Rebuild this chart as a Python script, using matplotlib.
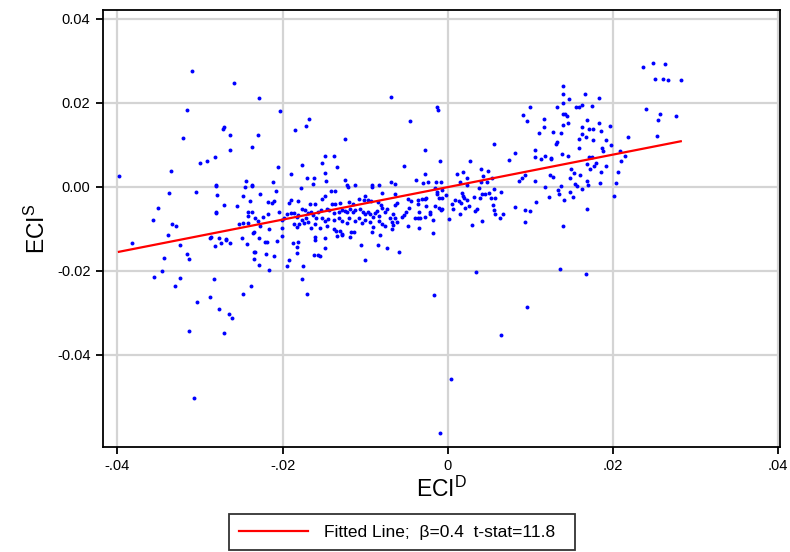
import matplotlib
matplotlib.use("Agg")
import matplotlib.pyplot as plt
from matplotlib.lines import Line2D

plt.rcParams['font.family'] = ['Liberation Sans', 'DejaVu Sans']
plt.rcParams['mathtext.default'] = 'regular'

# ---- data (ECI^D, ECI^S), grouped by region ----
upper_left = [(-0.0309,0.0276),(-0.0259,0.0248),(-0.0316,0.0183),(-0.0271,0.0143),(-0.0272,0.0138),(-0.0263,0.0124),
    (-0.0321,0.0117),(-0.0237,0.0095),(-0.0263,0.0087),(-0.0282,0.0071),(-0.0292,0.0061),(-0.0300,0.0056),(-0.0335,0.0038),
    (-0.0398,0.0025),(-0.0244,0.0014),(-0.0237,0.0005),(-0.0280,0.0005)]
upper_mid = [(-0.0228,0.0210),(-0.0069,0.0214),(-0.0203,0.0180),(-0.0168,0.0162),(-0.0172,0.0145),(-0.0185,0.0136),
    (-0.0230,0.0124),(-0.0124,0.0113),(-0.0149,0.0073),(-0.0138,0.0073),(-0.0152,0.0056),(-0.0176,0.0052),(-0.0206,0.0048),
    (-0.0134,0.0046),(-0.0053,0.0049),(-0.0190,0.0031),(-0.0149,0.0033),(-0.0170,0.0021),(-0.0162,0.0021),(-0.0125,0.0016),
    (-0.0147,0.0014),(-0.0211,0.0010),(-0.0163,0.0006),(-0.0122,0.0005),(-0.0112,0.0005),(-0.0092,0.0004),(-0.0083,0.0004),
    (-0.0069,0.0011),(-0.0064,0.0006)]
upper_center = [(-0.0013,0.0189),(-0.0012,0.0183),(-0.0046,0.0156),(0.0099,0.0189),(0.0091,0.0170),(0.0096,0.0156),
    (0.0117,0.0162),(0.0116,0.0141),(0.0111,0.0128),(0.0127,0.0130),(0.0056,0.0102),(-0.0027,0.0087),(-0.0010,0.0061),
    (0.0081,0.0081),(0.0074,0.0063),(0.0105,0.0088),(0.0106,0.0071),(0.0113,0.0066),(0.0118,0.0072),(0.0125,0.0069),
    (0.0125,0.0065),(0.0027,0.0060),(0.0011,0.0031),(0.0019,0.0035),(0.0040,0.0043),(0.0049,0.0037),(0.0023,0.0021),
    (0.0043,0.0025),(-0.0027,0.0031),(-0.0038,0.0017),(-0.0024,0.0011),(-0.0030,0.0008),(-0.0014,0.0012),(-0.0008,0.0011),
    (0.0015,0.0011),(0.0054,0.0021),(0.0093,0.0028),(0.0090,0.0021),(0.0086,0.0014),(0.0124,0.0028),(0.0127,0.0023),
    (0.0106,0.0014),(0.0040,0.0011),(0.0048,0.0011)]
upper_right = [(0.0236,0.0286),(0.0248,0.0295),(0.0263,0.0292),(0.0251,0.0257),(0.0261,0.0257),(0.0266,0.0254),
    (0.0282,0.0254),(0.0140,0.0240),(0.0139,0.0221),(0.0166,0.0220),(0.0183,0.0210),(0.0147,0.0208),(0.0140,0.0199),
    (0.0132,0.0190),(0.0155,0.0189),(0.0159,0.0189),(0.0163,0.0195),(0.0174,0.0191),(0.0240,0.0185),(0.0257,0.0174),
    (0.0255,0.0159),(0.0276,0.0168),(0.0140,0.0173),(0.0142,0.0172),(0.0144,0.0169),(0.0168,0.0158),(0.0140,0.0147),
    (0.0145,0.0151),(0.0183,0.0151),(0.0196,0.0144),(0.0163,0.0143),(0.0171,0.0137),(0.0176,0.0137),(0.0185,0.0133),
    (0.0137,0.0129),(0.0163,0.0126),(0.0167,0.0118),(0.0159,0.0114),(0.0176,0.0111),(0.0218,0.0118),(0.0253,0.0121),
    (0.0191,0.0110),(0.0132,0.0106),(0.0131,0.0101),(0.0197,0.0099),(0.0187,0.0093),(0.0159,0.0092),(0.0188,0.0084),
    (0.0209,0.0086),(0.0138,0.0077),(0.0146,0.0073),(0.0215,0.0073),(0.0171,0.0070),(0.0175,0.0071),(0.0210,0.0061),
    (0.0169,0.0053),(0.0180,0.0056),(0.0177,0.0050),(0.0192,0.0050),(0.0149,0.0042),(0.0172,0.0042),(0.0153,0.0032),
    (0.0160,0.0027),(0.0185,0.0036),(0.0206,0.0034),(0.0148,0.0020),(0.0169,0.0014),(0.0170,0.0005),(0.0154,0.0007),
    (0.0184,0.0008),(0.0204,0.0008)]
lower_left = [(-0.0338,-0.0015),(-0.0305,-0.0013),(-0.0280,0.0002),(-0.0246,-0.0001),(-0.0237,0.0002),(-0.0279,-0.0020),
    (-0.0248,-0.0023),(-0.0239,-0.0034),(-0.0271,-0.0044),(-0.0255,-0.0046),(-0.0351,-0.0050),(-0.0281,-0.0061),
    (-0.0280,-0.0063),(-0.0242,-0.0060),(-0.0237,-0.0060),(-0.0242,-0.0069),(-0.0357,-0.0079),(-0.0334,-0.0090),
    (-0.0329,-0.0094),(-0.0253,-0.0090),(-0.0248,-0.0087),(-0.0242,-0.0086),(-0.0236,-0.0110),(-0.0234,-0.0108),
    (-0.0339,-0.0114),(-0.0286,-0.0119),(-0.0288,-0.0123),(-0.0277,-0.0123),(-0.0269,-0.0125),(-0.0269,-0.0128),
    (-0.0249,-0.0121),(-0.0382,-0.0135),(-0.0275,-0.0135),(-0.0263,-0.0135),(-0.0243,-0.0137),(-0.0282,-0.0142),
    (-0.0324,-0.0140),(-0.0316,-0.0160),(-0.0234,-0.0156),(-0.0313,-0.0173),(-0.0344,-0.0169),(-0.0234,-0.0172),
    (-0.0346,-0.0200),(-0.0355,-0.0214),(-0.0324,-0.0217),(-0.0283,-0.0220),(-0.0330,-0.0236),(-0.0238,-0.0236),
    (-0.0248,-0.0255),(-0.0288,-0.0263),(-0.0304,-0.0275),(-0.0277,-0.0291),(-0.0265,-0.0304),(-0.0261,-0.0313),
    (-0.0313,-0.0344),(-0.0271,-0.0348),(-0.0307,-0.0503)]
band_mid = [(-0.0208,-0.0010),(-0.0227,-0.0017),(-0.0178,-0.0002),(-0.0141,-0.0010),(-0.0136,-0.0010),(-0.0121,0.0000),
    (-0.0092,0.0000),(-0.0080,-0.0016),(-0.0064,-0.0017),(-0.0218,-0.0036),(-0.0213,-0.0038),(-0.0210,-0.0035),
    (-0.0190,-0.0032),(-0.0192,-0.0040),(-0.0181,-0.0034),(-0.0148,-0.0022),(-0.0152,-0.0029),(-0.0177,-0.0053),
    (-0.0173,-0.0055),(-0.0167,-0.0042),(-0.0161,-0.0041),(-0.0140,-0.0042),(-0.0137,-0.0042),(-0.0131,-0.0038),
    (-0.0119,-0.0037),(-0.0115,-0.0042),(-0.0107,-0.0029),(-0.0100,-0.0021),(-0.0101,-0.0032),(-0.0096,-0.0032),
    (-0.0093,-0.0034),(-0.0084,-0.0036),(-0.0081,-0.0044),(-0.0064,-0.0044),(-0.0061,-0.0040),
    (-0.0204,-0.0061),(-0.0195,-0.0066),(-0.0190,-0.0062),(-0.0186,-0.0063),(-0.0224,-0.0071),(-0.0230,-0.0082),
    (-0.0233,-0.0075),(-0.0183,-0.0071),(-0.0181,-0.0067),(-0.0169,-0.0063),(-0.0165,-0.0061),(-0.0157,-0.0060),
    (-0.0153,-0.0055),(-0.0146,-0.0054),(-0.0144,-0.0056),(-0.0138,-0.0063),(-0.0132,-0.0061),(-0.0128,-0.0056),
    (-0.0125,-0.0058),(-0.0122,-0.0060),(-0.0118,-0.0053),(-0.0115,-0.0060),(-0.0112,-0.0055),(-0.0106,-0.0053),
    (-0.0103,-0.0061),(-0.0100,-0.0066),(-0.0096,-0.0060),(-0.0094,-0.0066),(-0.0091,-0.0071),(-0.0088,-0.0063),
    (-0.0086,-0.0058),(-0.0083,-0.0069),(-0.0080,-0.0051),(-0.0076,-0.0061),(-0.0073,-0.0053),(-0.0070,-0.0074),
    (-0.0066,-0.0066),(-0.0064,-0.0074),(-0.0056,-0.0071),(-0.0053,-0.0067),
    (-0.0218,-0.0066),(-0.0198,-0.0075),(-0.0201,-0.0079),(-0.0177,-0.0079),(-0.0171,-0.0075),(-0.0169,-0.0085),
    (-0.0174,-0.0087),(-0.0180,-0.0090),(-0.0163,-0.0067),(-0.0160,-0.0074),(-0.0152,-0.0075),(-0.0148,-0.0082),
    (-0.0145,-0.0077),(-0.0138,-0.0079),(-0.0132,-0.0075),(-0.0128,-0.0082),(-0.0122,-0.0087),(-0.0119,-0.0074),
    (-0.0112,-0.0082),(-0.0108,-0.0075),(-0.0104,-0.0087),(-0.0100,-0.0079),(-0.0094,-0.0085),(-0.0090,-0.0095),
    (-0.0083,-0.0082),(-0.0080,-0.0090),(-0.0076,-0.0093),(-0.0067,-0.0085),(-0.0062,-0.0083),
    (-0.0216,-0.0101),(-0.0201,-0.0098),(-0.0227,-0.0093),(-0.0186,-0.0090),(-0.0182,-0.0095),(-0.0165,-0.0098),
    (-0.0161,-0.0090),(-0.0155,-0.0099),(-0.0146,-0.0093),(-0.0138,-0.0101),(-0.0135,-0.0105),(-0.0130,-0.0105),
    (-0.0128,-0.0115),(-0.0117,-0.0107),(-0.0114,-0.0107),(-0.0118,-0.0119),(-0.0134,-0.0117),(-0.0092,-0.0107),
    (-0.0082,-0.0115),(-0.0067,-0.0101),(-0.0066,-0.0091),
    (-0.0201,-0.0117),(-0.0228,-0.0123),(-0.0221,-0.0131),(-0.0219,-0.0132),(-0.0207,-0.0129),(-0.0187,-0.0135),
    (-0.0181,-0.0131),(-0.0182,-0.0143),(-0.0183,-0.0159),(-0.0161,-0.0119),(-0.0161,-0.0127),(-0.0149,-0.0121),
    (-0.0149,-0.0145),(-0.0128,-0.0113),(-0.0105,-0.0140),(-0.0084,-0.0139),(-0.0073,-0.0145),(-0.0059,-0.0155),
    (-0.0233,-0.0155),(-0.0220,-0.0161),(-0.0210,-0.0165),(-0.0162,-0.0162),(-0.0157,-0.0163),(-0.0155,-0.0165),
    (-0.0192,-0.0175),(-0.0100,-0.0175),(-0.0228,-0.0186),(-0.0194,-0.0189),(-0.0175,-0.0190),(-0.0216,-0.0199),
    (-0.0176,-0.0219),(-0.0170,-0.0256)]
band_center_left = [(-0.0015,-0.0004),(-0.0013,-0.0013),(-0.0013,-0.0018),(-0.0007,-0.0008),(-0.0002,-0.0020),
    (-0.0007,-0.0026),(-0.0011,-0.0028),(-0.0048,-0.0029),(-0.0044,-0.0034),(-0.0036,-0.0032),(-0.0031,-0.0030),
    (-0.0028,-0.0029),(-0.0026,-0.0028),(-0.0036,-0.0041),(-0.0026,-0.0045),(-0.0047,-0.0051),(-0.0050,-0.0060),
    (-0.0035,-0.0060),(-0.0021,-0.0060),(-0.0021,-0.0066),(-0.0015,-0.0045),(-0.0011,-0.0050),(-0.0007,-0.0053),
    (-0.0008,-0.0055),(-0.0040,-0.0075),(-0.0036,-0.0075),(-0.0034,-0.0074),(-0.0028,-0.0072),(-0.0018,-0.0080),
    (-0.0048,-0.0093),(-0.0035,-0.0099),(-0.0018,-0.0110)]
band_center_right = [(0.0005,-0.0042),(0.0009,-0.0032),(0.0014,-0.0034),(0.0016,-0.0040),(0.0018,-0.0021),
    (0.0017,-0.0016),(0.0020,-0.0026),(0.0023,-0.0032),(0.0021,-0.0050),(0.0026,-0.0045),(0.0032,-0.0024),
    (0.0039,-0.0028),(0.0041,-0.0018),(0.0045,-0.0018),(0.0050,-0.0016),(0.0052,-0.0028),(0.0056,-0.0005),
    (0.0057,-0.0028),(0.0065,-0.0012),(0.0006,-0.0053),(0.0015,-0.0064),(0.0002,-0.0077),(0.0023,0.0004),
    (0.0033,-0.0058),(0.0035,-0.0053),(0.0038,-0.0004),(0.0055,-0.0044),(0.0056,-0.0055),(0.0057,-0.0066),
    (0.0063,-0.0074),(0.0067,-0.0066),(0.0042,-0.0081),(0.0029,-0.0091),(0.0081,-0.0049),(0.0094,-0.0056),
    (0.0099,-0.0059),(0.0094,-0.0085),(0.0107,-0.0036),(0.0118,-0.0001),(0.0122,-0.0025)]
lower_right = [(0.0133,-0.0009),(0.0135,-0.0018),(0.0148,-0.0013),(0.0163,-0.0005),(0.0152,-0.0025),(0.0141,-0.0032),
    (0.0201,-0.0023),(0.0168,-0.0053),(0.0139,-0.0094),(0.0136,-0.0196),(0.0167,-0.0207),(0.0137,0.0002),(0.0156,0.0002)]
outliers = [(0.0065,-0.0352),(0.0004,-0.0458),(-0.0010,-0.0586),(0.0034,-0.0202),(-0.0017,-0.0259),(0.0096,-0.0286)]

fit_beta = 0.387
fit_intercept = -0.0001
legend_label = "Fitted Line;  \u03b2=0.4  t-stat=11.8"

x_ticks = [-0.04, -0.02, 0.0, 0.02, 0.04]
x_tick_labels = ["-.04", "-.02", "0", ".02", ".04"]
y_ticks = [-0.04, -0.02, 0.0, 0.02, 0.04]
y_tick_labels = ["-0.04", "-0.02", "0.00", "0.02", "0.04"]

# ---- build ----
pts = (upper_left + upper_mid + upper_center + upper_right + lower_left + band_mid
       + band_center_left + band_center_right + lower_right + outliers)
xs = [p[0] for p in pts]
ys = [p[1] for p in pts]

fig = plt.figure(figsize=(7.9, 5.52), dpi=100)
ax = fig.add_axes([103/790, 1-447/552, 677/790, 437/552])

ax.set_xlim(-0.04173, 0.04021)
ax.set_ylim(-0.06198, 0.04207)

ax.grid(True, color='#d4d4d4', linewidth=1.6)
ax.set_axisbelow(True)

ax.scatter(xs, ys, s=8, color='#0000ff', marker='o', linewidths=0, zorder=3)

x0, x1 = min(xs), max(xs)
ax.plot([x0, x1], [fit_intercept + fit_beta*x0, fit_intercept + fit_beta*x1],
        color='#ff0000', linewidth=1.6, zorder=4)

ax.set_xticks(x_ticks)
ax.set_xticklabels(x_tick_labels)
ax.set_yticks(y_ticks)
ax.set_yticklabels(y_tick_labels)
ax.tick_params(direction='out', length=5, width=1.3, colors='black', labelsize=10.5, pad=4)

for s in ax.spines.values():
    s.set_color('black')
    s.set_linewidth(1.3)

ax.set_xlabel("ECI$^D$", fontsize=16.5, labelpad=2)
ax.set_ylabel("ECI$^S$", fontsize=16.5, labelpad=5)

handle = Line2D([0], [0], color='#ff0000', linewidth=1.6)
leg = fig.legend([handle], [legend_label + "  "], loc='center', bbox_to_anchor=(402/790, 1-532/552),
                 frameon=True, fancybox=False, edgecolor='black', fontsize=12.5,
                 handlelength=4.0, handletextpad=0.9, borderpad=0.6, borderaxespad=0)
leg.get_frame().set_linewidth(1.3)

fig.savefig("out.png", dpi=100)
